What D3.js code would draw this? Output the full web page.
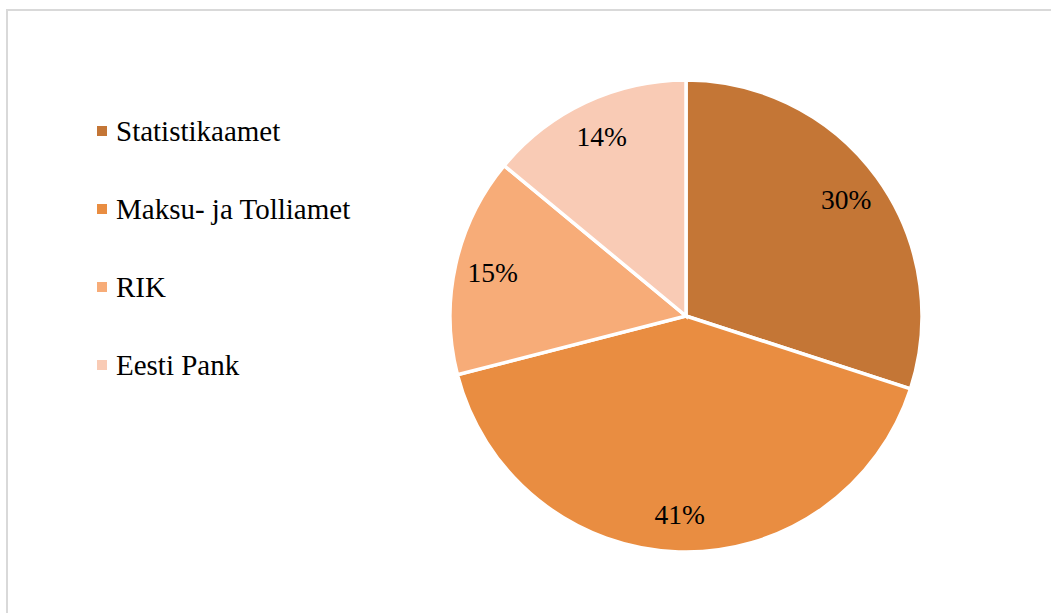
<!DOCTYPE html>
<html>
<head>
<meta charset="utf-8">
<script src="https://cdn.jsdelivr.net/npm/d3@7"></script>
<style>
  body { margin: 0; background: #fff; }
  svg text { font-family: "Liberation Serif", "Times New Roman", Tinos !important; }
</style>
</head>
<body>
<div id="chart"></div>
<script>
// data
const categories = ["Statistikaamet", "Maksu- ja Tolliamet", "RIK", "Eesti Pank"]
const shares = [30, 41, 15, 14]
const colors = ["#C47636", "#E98D41", "#F7AC78", "#F9CBB5"]

const width = 1051, height = 613
const cx = 686, cy = 316
const radius = 236
const labelRadius = 198

const svg = d3.select("#chart")
    .append("svg")
    .attr("width", width)
    .attr("height", height)
    .attr("font-family", "Liberation Serif")

// chart area frame (runs off the right and bottom edges)
svg.append("rect")
    .attr("x", 7)
    .attr("y", 10)
    .attr("width", 1200)
    .attr("height", 800)
    .attr("fill", "none")
    .attr("stroke", "#d9d9d9")
    .attr("stroke-width", 2)

const color = d3.scaleOrdinal()
    .domain(categories)
    .range(colors)

const pie = d3.pie()
    .sort(null)
    .value(d => d.value)

const arc = d3.arc()
    .innerRadius(0)
    .outerRadius(radius)

const labelArc = d3.arc()
    .innerRadius(labelRadius)
    .outerRadius(labelRadius)

const data = categories.map((c, i) => ({ name: c, value: shares[i] }))
const arcs = pie(data)

const g = svg.append("g")
    .attr("transform", "translate(" + cx + "," + cy + ")")

//slices
g.selectAll("path.slice")
    .data(arcs)
    .enter().append("path")
    .attr("class", "slice")
    .attr("d", arc)
    .attr("fill", d => color(d.data.name))
    .attr("stroke", "#fff")
    .attr("stroke-width", 3.5)

//percentage labels
g.selectAll("text.pct")
    .data(arcs)
    .enter().append("text")
    .attr("class", "pct")
    .attr("transform", d => "translate(" + labelArc.centroid(d) + ")")
    .attr("text-anchor", "middle")
    .attr("dy", "0.35em")
    .attr("font-family", "Liberation Serif")
    .attr("font-size", 27.5)
    .attr("fill", "#000")
    .text(d => d.data.value + "%")

//legend
const legendY = d3.scalePoint()
    .domain(categories)
    .range([131, 365])

svg.selectAll("rect.key")
    .data(categories)
    .enter().append("rect")
    .attr("class", "key")
    .attr("x", 97)
    .attr("y", d => legendY(d) - 5)
    .attr("width", 10)
    .attr("height", 10)
    .attr("fill", d => color(d))

svg.selectAll("text.key")
    .data(categories)
    .enter().append("text")
    .attr("class", "key")
    .attr("x", 116)
    .attr("y", d => legendY(d) + 10)
    .attr("font-family", "Liberation Serif")
    .attr("font-size", 29)
    .attr("fill", "#000")
    .text(d => d)
</script>
</body>
</html>
